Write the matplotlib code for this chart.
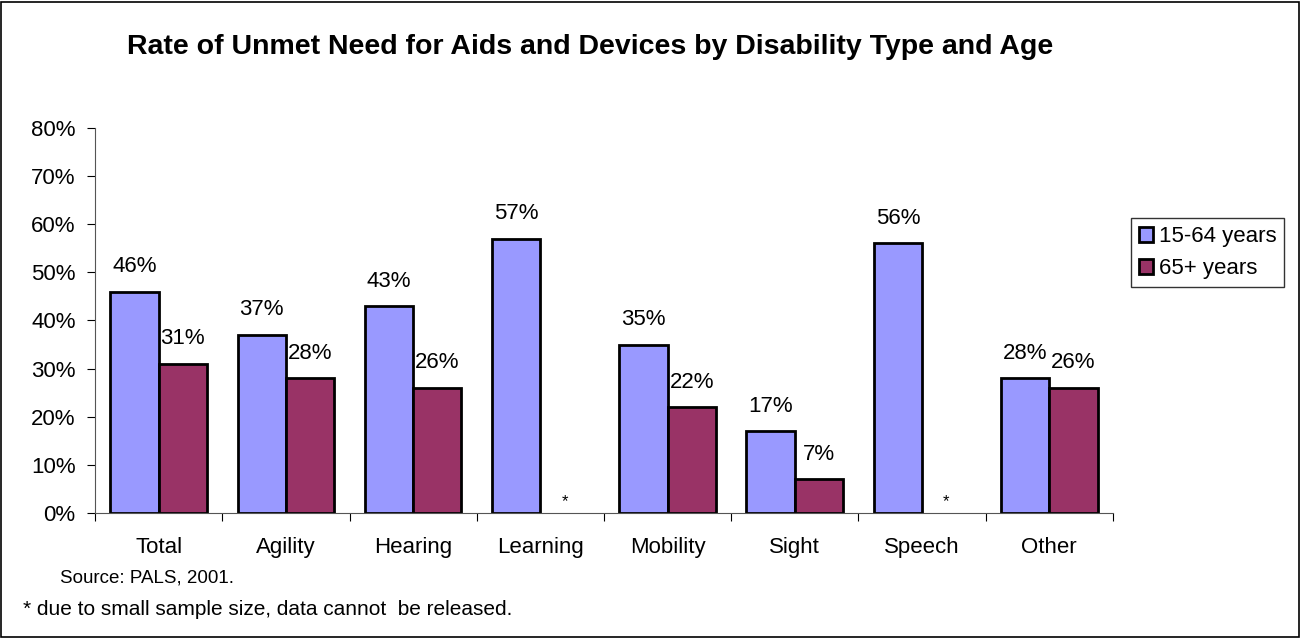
import numpy as np
import matplotlib.pyplot as plt
from matplotlib.patches import Rectangle

plt.rcParams['font.family'] = ['Liberation Sans', 'DejaVu Sans']

categories = ['Total', 'Agility', 'Hearing', 'Learning', 'Mobility', 'Sight', 'Speech', 'Other']
young = [46, 37, 43, 57, 35, 17, 56, 28]
# None = not released (small sample)
old = [31, 28, 26, None, 22, 7, None, 26]
series_names = ['15-64 years', '65+ years']
colors = ['#9999FF', '#993366']

fig = plt.figure(figsize=(13, 6.38), dpi=100)
ax = fig.add_axes([0.0731, 0.196, 0.783, 0.6034])

x = np.arange(len(categories))
w = 0.38
ax.bar(x - w / 2, young, w, color=colors[0], edgecolor='black', linewidth=2.0,
       label=series_names[0])
old_vals = [v if v is not None else 0 for v in old]
b2 = ax.bar(x + w / 2, old_vals, w, color=colors[1], edgecolor='black', linewidth=2.0,
            label=series_names[1])
for rect, v in zip(b2, old):
    if v is None:
        rect.set_visible(False)

for xi, v in zip(x, young):
    ax.text(xi - w / 2, v + 3, f'{v}%', ha='center', va='bottom', fontsize=16)
for xi, v in zip(x, old):
    if v is None:
        ax.text(xi + w / 2, 0.8, '*', ha='center', va='bottom', fontsize=12)
    else:
        ax.text(xi + w / 2, v + 3, f'{v}%', ha='center', va='bottom', fontsize=16)

ax.set_xlim(-0.5, len(categories) - 0.5)
ax.set_ylim(0, 80)
ax.set_yticks(range(0, 81, 10))
ax.set_yticklabels([f'{t}%' for t in range(0, 81, 10)], fontsize=16)
ax.set_xticks(np.arange(-0.5, len(categories), 1.0))
ax.set_xticklabels([])
ax.set_xticks(x, minor=True)
ax.set_xticklabels(categories, minor=True, fontsize=16)
ax.tick_params(axis='x', which='major', length=6, direction='out', color='black')
ax.tick_params(axis='x', which='minor', length=0, pad=17)
ax.tick_params(axis='y', length=6, direction='out', pad=8)
for s in ['top', 'right']:
    ax.spines[s].set_visible(False)
ax.spines['left'].set_color('#555555')
ax.spines['bottom'].set_color('#555555')

leg = ax.legend(loc='upper left', bbox_to_anchor=(1.018, 0.765), fontsize=16,
                frameon=True, fancybox=False, edgecolor='black',
                handlelength=0.65, handleheight=0.65, handletextpad=0.25,
                borderpad=0.35, labelspacing=0.5, borderaxespad=0)
leg.get_frame().set_linewidth(1.0)

fig.text(0.454, 0.926, 'Rate of Unmet Need for Aids and Devices by Disability Type and Age',
         ha='center', va='center', fontsize=20.5, fontweight='bold')
fig.text(0.046, 0.094, 'Source: PALS, 2001.', ha='left', va='center', fontsize=13.5)
fig.text(0.018, 0.044, '* due to small sample size, data cannot  be released.',
         ha='left', va='center', fontsize=15)

fig.add_artist(Rectangle((0.0008, 0.0015), 0.9984, 0.9955, transform=fig.transFigure,
                         fill=False, edgecolor='black', linewidth=1.2))

fig.savefig('out.png', dpi=100)
